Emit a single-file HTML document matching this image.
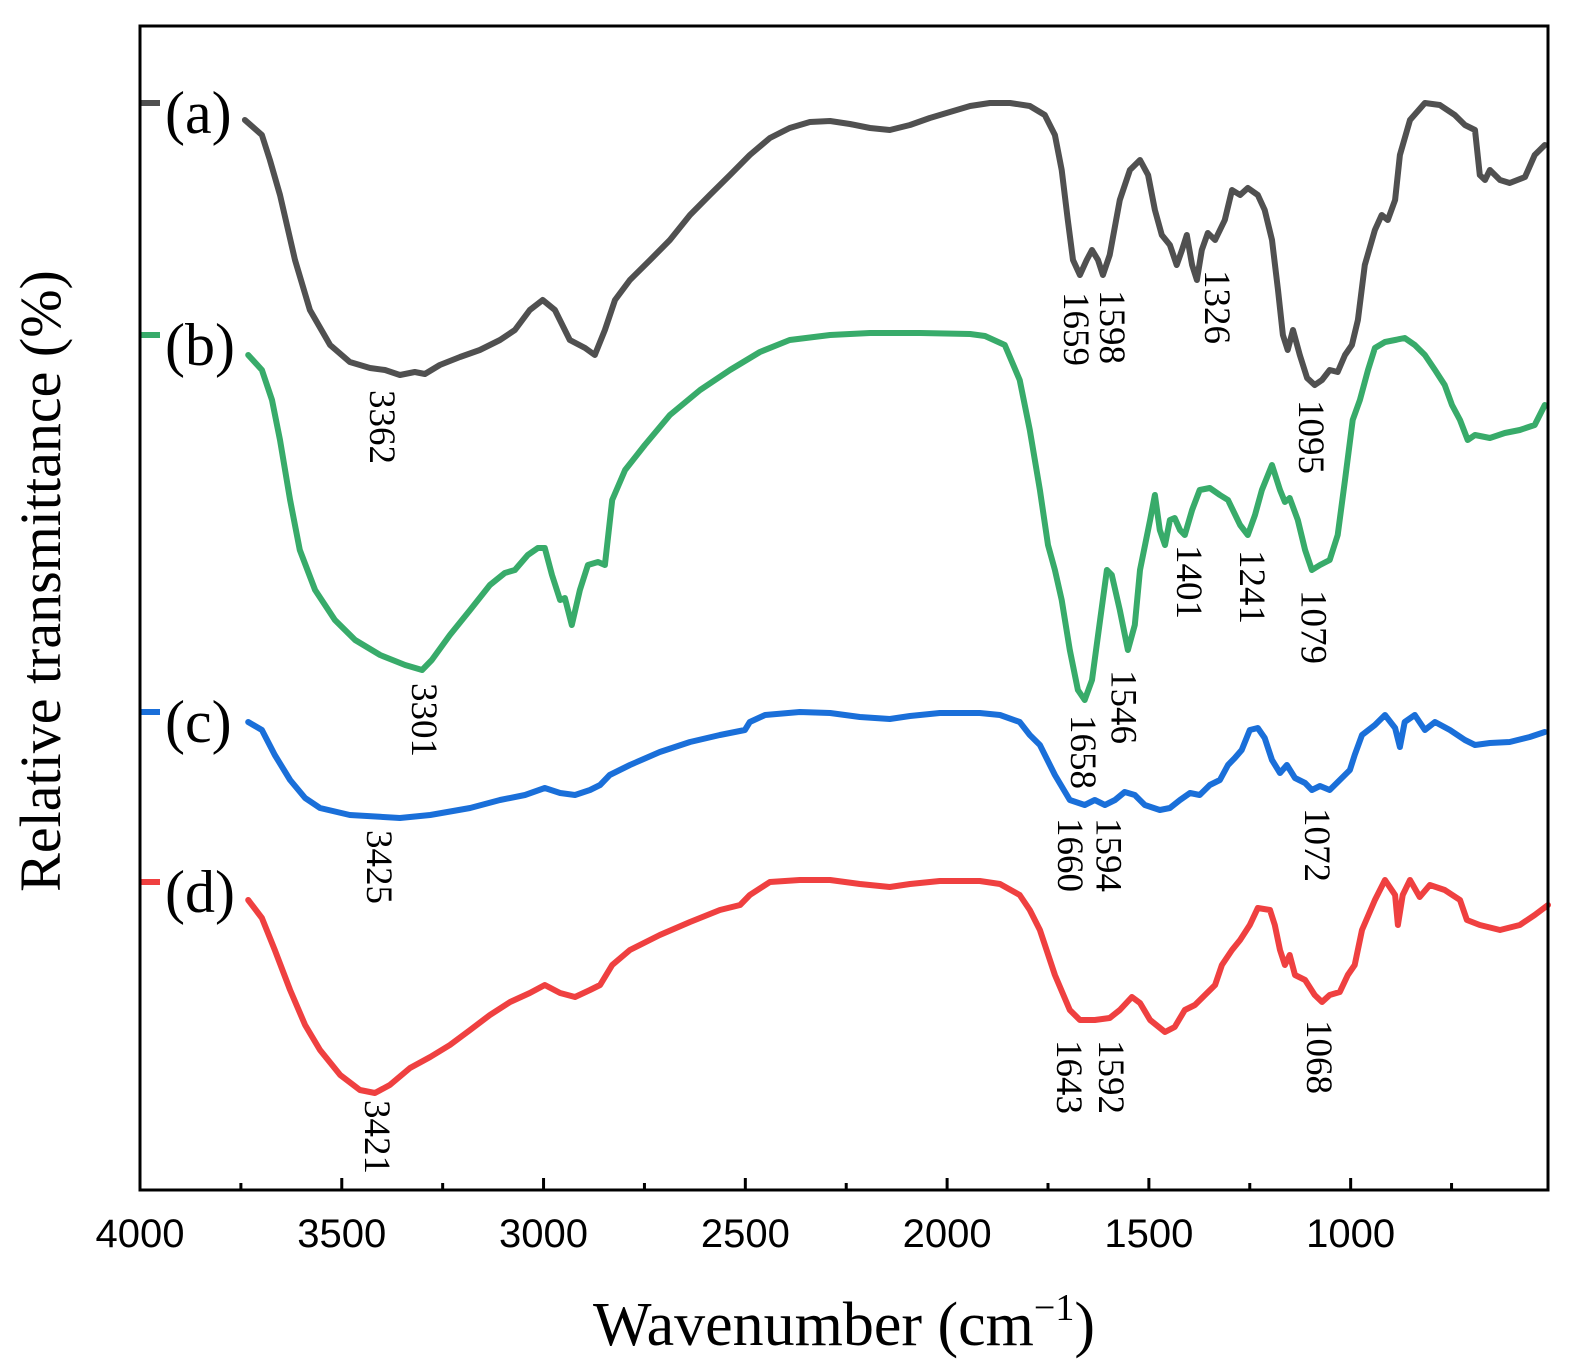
<!DOCTYPE html>
<html><head><meta charset="utf-8">
<style>
html,body{margin:0;padding:0;background:#fff;}
svg{display:block;}
.serif{font-family:"Liberation Serif","DejaVu Serif",serif;}
.sans{font-family:"Liberation Sans","DejaVu Sans",sans-serif;}
</style></head>
<body>
<svg id="chart" width="1570" height="1370" viewBox="0 0 1570 1370" xmlns="http://www.w3.org/2000/svg">
<rect x="0" y="0" width="1570" height="1370" fill="#fff"/>
<g id="series"></g>
<g id="annots"></g>
<rect x="140" y="26" width="1408" height="1164" fill="none" stroke="#000" stroke-width="3"/>
<g id="xaxis"></g>
<text class="serif" x="844" y="1345" font-size="62" text-anchor="middle">Wavenumber (cm<tspan dy="-25" font-size="38">−1</tspan><tspan dy="25">)</tspan></text>
<text class="serif" transform="translate(60,581) rotate(-90)" font-size="58" text-anchor="middle">Relative transmittance (%)</text>
</svg>
<script>
const xTicks = [4000, 3500, 3000, 2500, 2000, 1500, 1000];
const xMinorTicks = [3750, 3250, 2750, 2250, 1750, 1250, 750];
const seriesNames = ["(a)", "(b)", "(c)", "(d)"];
const seriesColors = ["#505050", "#38ab6a", "#1a6fd9", "#ef4040"];
const legendLevels = [1087, 855, 478, 308];

const aWave = [3740,3698,3678,3653,3616,3579,3529,3480,3430,3393,3356,3319,3294,3257,3207,3158,3108,3071,3034,3002,2972,2935,2897,2873,2848,2823,2786,2736,2687,2637,2588,2538,2489,2439,2390,2340,2290,2241,2191,2142,2092,2043,1993,1943,1894,1844,1795,1758,1733,1716,1701,1688,1671,1654,1641,1626,1614,1597,1572,1547,1522,1502,1485,1468,1448,1431,1418,1406,1393,1381,1369,1354,1336,1312,1294,1274,1255,1230,1213,1195,1180,1168,1156,1143,1126,1108,1089,1071,1052,1032,1014,997,982,965,940,923,908,890,878,853,816,779,742,717,692,680,667,655,630,606,568,544,519];
const aVal = [1070,1055,1030,995,930,880,845,828,822,820,815,818,816,825,833,840,850,860,880,890,880,850,842,835,860,890,910,930,950,975,995,1015,1035,1052,1062,1068,1069,1066,1062,1060,1065,1072,1078,1084,1087,1087,1084,1075,1055,1020,970,930,915,930,940,930,915,935,990,1020,1030,1015,980,955,945,925,940,955,925,910,940,957,950,970,1000,995,1002,995,980,950,900,855,840,860,835,812,805,810,820,818,835,845,870,925,960,975,970,990,1035,1070,1087,1085,1075,1065,1060,1015,1010,1020,1010,1007,1013,1035,1045];

const bWave = [3732,3698,3673,3653,3628,3604,3566,3517,3467,3405,3343,3301,3277,3232,3182,3133,3096,3071,3039,3014,2997,2979,2959,2947,2930,2910,2890,2865,2848,2830,2798,2749,2687,2612,2538,2464,2390,2290,2191,2067,1943,1906,1857,1820,1795,1770,1750,1733,1716,1696,1676,1659,1641,1621,1604,1592,1572,1552,1535,1522,1497,1485,1473,1460,1448,1436,1423,1411,1393,1374,1349,1324,1304,1274,1255,1237,1220,1195,1175,1163,1151,1131,1113,1096,1076,1052,1032,1014,995,977,957,940,915,890,866,841,816,791,767,749,729,710,692,655,618,581,544,519];
const bVal = [835,820,790,750,690,640,600,570,550,535,525,520,530,555,580,605,617,620,635,642,642,615,590,592,565,600,625,628,625,690,720,745,775,800,820,838,850,855,857,857,856,854,845,810,760,700,645,620,590,540,500,490,510,570,620,615,580,540,565,620,670,695,660,645,670,672,660,655,680,700,702,695,690,665,655,675,700,725,700,688,692,670,640,620,625,630,655,710,770,790,820,842,848,850,852,845,835,820,805,785,770,750,755,752,757,760,765,785];

const cWave = [3732,3698,3666,3628,3591,3554,3480,3356,3281,3182,3108,3046,2997,2959,2922,2885,2860,2836,2786,2712,2637,2563,2501,2489,2451,2365,2290,2216,2142,2092,2018,1919,1869,1820,1795,1770,1733,1696,1659,1634,1609,1584,1560,1535,1510,1473,1448,1423,1398,1374,1349,1324,1304,1287,1270,1250,1230,1213,1195,1175,1158,1138,1113,1096,1076,1052,1027,1002,990,972,940,915,890,878,866,841,816,791,754,717,692,655,606,556,519];
const cVal = [468,460,435,410,392,382,375,372,375,382,390,395,402,397,395,400,405,415,425,438,448,455,460,468,475,478,477,473,471,474,477,477,475,468,455,445,415,390,385,390,385,390,398,395,385,380,382,390,397,395,405,410,425,432,440,460,462,452,430,417,425,412,407,400,404,400,410,420,435,455,465,475,462,443,468,475,460,468,460,450,445,447,448,453,458];

const dWave = [3732,3698,3666,3628,3591,3554,3504,3455,3418,3381,3331,3281,3232,3182,3133,3083,3034,2997,2959,2922,2885,2860,2830,2786,2712,2637,2563,2513,2489,2439,2365,2290,2216,2142,2092,2018,1919,1869,1820,1795,1770,1733,1696,1671,1634,1597,1572,1542,1522,1497,1460,1436,1411,1386,1361,1336,1319,1294,1274,1250,1230,1200,1188,1175,1163,1151,1138,1113,1089,1071,1052,1027,1007,990,972,940,915,890,883,871,853,829,804,767,729,712,680,630,581,544,511];
const dVal = [290,272,240,200,165,140,115,100,97,105,122,133,145,160,175,188,197,205,197,193,200,205,225,240,255,268,280,285,295,308,310,310,306,303,306,309,309,306,295,280,260,215,180,170,170,172,180,193,187,170,158,163,180,185,195,205,225,240,250,265,282,280,265,240,225,235,215,210,195,188,195,198,215,225,260,290,310,295,265,295,310,293,305,300,290,270,265,260,265,275,285];

const peakLabels = ["3362","1659","1598","1326","1095","3301","1658","1546","1401","1241","1079","3425","1660","1594","1072","1643","1592","3421","1068"];
const peakLabelWave = [3398,1678,1589,1329,1096,3294,1661,1560,1398,1242,1089,3405,1693,1597,1081,1696,1592,3410,1076];
const peakLabelTop = [800,898,900,920,790,507,475,520,645,640,600,360,372,372,382,150,150,90,170];

const X0 = 140, X1 = 1548, W0 = 4000, W1 = 511;
function xScale(w){ return X0 + (W0 - w) * (X1 - X0) / (W0 - W1); }
function yScale(v){ return 1190 - v; }
const NS = "http://www.w3.org/2000/svg";
const series = document.getElementById('series');
const allWave = [aWave, bWave, cWave, dWave];
const allVal = [aVal, bVal, cVal, dVal];
for (let s = 0; s < 4; s++) {
  let d = "";
  for (let i = 0; i < allWave[s].length; i++) {
    d += (i ? "L" : "M") + xScale(allWave[s][i]).toFixed(1) + "," + yScale(allVal[s][i]).toFixed(1);
  }
  const p = document.createElementNS(NS, 'path');
  p.setAttribute('d', d);
  p.setAttribute('fill', 'none');
  p.setAttribute('stroke', seriesColors[s]);
  p.setAttribute('stroke-width', '6');
  p.setAttribute('stroke-linejoin', 'round');
  p.setAttribute('stroke-linecap', 'round');
  
  
  series.appendChild(p);
  const ln = document.createElementNS(NS, 'line');
  ln.setAttribute('x1', X0); ln.setAttribute('x2', X0 + 20);
  ln.setAttribute('y1', yScale(legendLevels[s])); ln.setAttribute('y2', yScale(legendLevels[s]));
  ln.setAttribute('stroke', seriesColors[s]); ln.setAttribute('stroke-width', '6');
  
  
  series.appendChild(ln);
  const t = document.createElementNS(NS, 'text');
  t.setAttribute('x', 165); t.setAttribute('y', yScale(legendLevels[s]) + 30);
  t.setAttribute('class', 'serif'); t.setAttribute('font-size', '60');
  t.textContent = seriesNames[s];
  
  
  series.appendChild(t);
}
const annots = document.getElementById('annots');
for (let i = 0; i < peakLabels.length; i++) {
  const t = document.createElementNS(NS, 'text');
  const x = xScale(peakLabelWave[i]) - 13, y = yScale(peakLabelTop[i]);
  t.setAttribute('transform', 'translate(' + x.toFixed(1) + ',' + y + ') rotate(90)');
  t.setAttribute('class', 'serif'); t.setAttribute('font-size', '37');
  t.textContent = peakLabels[i];
  
  
  annots.appendChild(t);
}
const xa = document.getElementById('xaxis');
for (const w of xTicks) {
  const x = xScale(w);
  const l = document.createElementNS(NS, 'line');
  l.setAttribute('x1', x); l.setAttribute('x2', x); l.setAttribute('y1', 1190); l.setAttribute('y2', 1178);
  l.setAttribute('stroke', '#000'); l.setAttribute('stroke-width', '3');
  
  
  xa.appendChild(l);
  const t = document.createElementNS(NS, 'text');
  t.setAttribute('x', x); t.setAttribute('y', 1247);
  t.setAttribute('text-anchor', 'middle'); t.setAttribute('class', 'sans'); t.setAttribute('font-size', '40');
  t.textContent = w;
  
  
  xa.appendChild(t);
}
for (const w of xMinorTicks) {
  const x = xScale(w);
  const l = document.createElementNS(NS, 'line');
  l.setAttribute('x1', x); l.setAttribute('x2', x); l.setAttribute('y1', 1190); l.setAttribute('y2', 1183);
  l.setAttribute('stroke', '#000'); l.setAttribute('stroke-width', '3');
  
  
  xa.appendChild(l);
}
</script>
</body></html>
